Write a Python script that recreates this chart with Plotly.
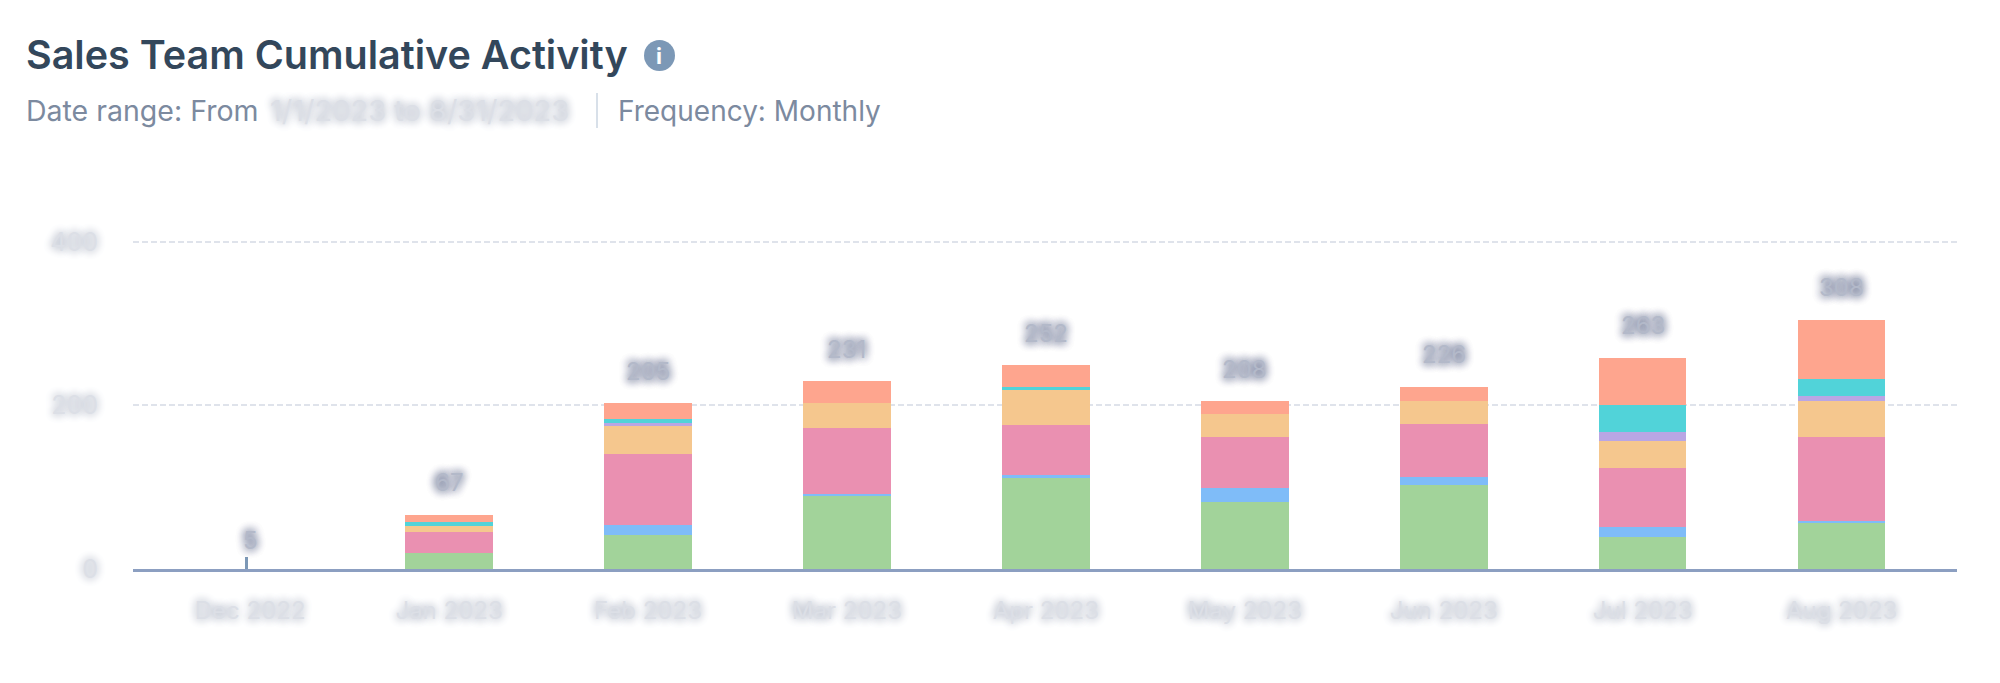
import plotly.graph_objects as go

months = ["Dec 2022", "Jan 2023", "Feb 2023", "Mar 2023", "Apr 2023", "May 2023", "Jun 2023", "Jul 2023", "Aug 2023"]
total_labels = ["5", "67", "205", "231", "252", "208", "226", "263", "308"]
dec_stick = [15, 0, 0, 0, 0, 0, 0, 0, 0]
green = [0, 19, 42, 89, 111, 82, 103, 39, 56]
blue = [0, 0, 12, 3, 4.5, 17.5, 9, 12, 3]
pink = [0, 26, 87, 81, 61, 61.5, 65, 73, 102]
orange = [0, 8, 35, 30, 42, 29, 29, 32, 44]
purple = [0, 0, 2, 0, 0, 0, 0, 11.5, 6]
teal = [0, 4.5, 5, 0, 4.5, 0, 0, 33, 21]
salmon = [0, 8.6, 20, 26.5, 26, 15, 17, 58, 73]
y_ticks = [0, 200, 400]

series = [
    ("Green", green, "#a2d39a"),
    ("Blue", blue, "#7fbcf8"),
    ("Pink", pink, "#ea90b1"),
    ("Orange", orange, "#f5c78e"),
    ("Purple", purple, "#b9a6e4"),
    ("Teal", teal, "#51d3d9"),
    ("Salmon", salmon, "#fea58e"),
]

# The page body adds 8px on the left and top, so the figure sits 8px in.
BODY = 8
W, H = 2000 - BODY, 683 - BODY
ML, MR, MT, MB = 133 - BODY, 43, 240 - BODY, 114
PW, PH = W - ML - MR, H - MT - MB
FONT = "Inter"
FILL_DARK = "#b3b9c9"
FILL_LIGHT = "#dcdfe6"
BLUR_DARK = "0 0 8px #8089a3, 0 0 10px #8089a3, 0 0 10px #8089a3"
BLUR_LIGHT = "0 0 8px #b4bac8, 0 0 10px #bcc2ce"


def px(x):
    return (x - BODY - ML) / PW


def py(y):
    return 1 - (y - BODY - MT) / PH


fig = go.Figure()
fig.add_trace(go.Bar(x=months, y=dec_stick, name="Stick", marker_color="#7c98b6",
                     marker_line_width=0, width=0.015, offset=-0.026, showlegend=False))
for name, vals, col in series:
    fig.add_trace(go.Bar(x=months, y=vals, name=name, marker_color=col,
                         marker_line_width=0, width=0.44, showlegend=False))

totals = [sum(s[1][i] for s in series) + dec_stick[i] for i in range(len(months))]
annotations = []
for i, (m, t, lab) in enumerate(zip(months, totals, total_labels)):
    annotations.append(dict(x=m, y=t, xref="x", yref="y", text=lab, showarrow=False,
                            yanchor="middle", yshift=16 if i == 0 else 32,
                            font=dict(family=FONT, size=24, color=FILL_DARK, shadow=BLUR_DARK)))


def ptext(x, y, text, size, color, anchor="left", weight="normal", shadow=None):
    font = dict(family=FONT, size=size, color=color, weight=weight)
    if shadow:
        font["shadow"] = shadow
    return dict(x=px(x), y=py(y), xref="paper", yref="paper", text=text, showarrow=False,
                xanchor=anchor, yanchor="middle", font=font)


annotations += [
    ptext(24, 55, "Sales Team Cumulative Activity", 39.5, "#33475b", weight=600),
    ptext(659, 55.5, "i", 22, "#ffffff", anchor="center", weight="bold"),
    ptext(24, 111, "Date range: From", 28.5, "#7c8a9f"),
    ptext(268, 111, "1/1/2023 to 8/31/2023", 29, FILL_LIGHT, shadow=BLUR_LIGHT),
    ptext(616, 111, "Frequency: Monthly", 28, "#7c8a9f"),
]

shapes = [
    dict(type="circle", xref="paper", yref="paper", x0=px(644), x1=px(675),
         y0=py(71), y1=py(40), fillcolor="#7c98b6", line_width=0, layer="below"),
    dict(type="line", xref="paper", yref="paper", x0=px(597), x1=px(597),
         y0=py(128), y1=py(93), line=dict(color="#cbd6e2", width=1.5)),
]

fig.update_layout(
    width=W, height=H, barmode="stack",
    margin=dict(l=ML, r=MR, t=MT, b=MB, autoexpand=False),
    paper_bgcolor="#ffffff", plot_bgcolor="#ffffff",
    annotations=annotations, shapes=shapes, showlegend=False,
    xaxis=dict(type="category", categoryorder="array", categoryarray=months,
               range=[-0.589, 8.58], showline=True, linecolor="#8c9fc1", linewidth=3,
               ticks="", showgrid=False, zeroline=False, ticklabelstandoff=18,
               tickfont=dict(family=FONT, size=24, color=FILL_LIGHT, shadow=BLUR_LIGHT)),
    yaxis=dict(range=[0, 402.4], tickvals=y_ticks, ticktext=[str(v) for v in y_ticks],
               showline=False, zeroline=False, ticks="", ticklabelstandoff=34,
               gridcolor="#dfe3eb", gridwidth=1.5, griddash="6px,3px",
               tickfont=dict(family=FONT, size=25, color=FILL_LIGHT, shadow=BLUR_LIGHT)),
)

fig.write_html("out.html", config={"displayModeBar": False})
